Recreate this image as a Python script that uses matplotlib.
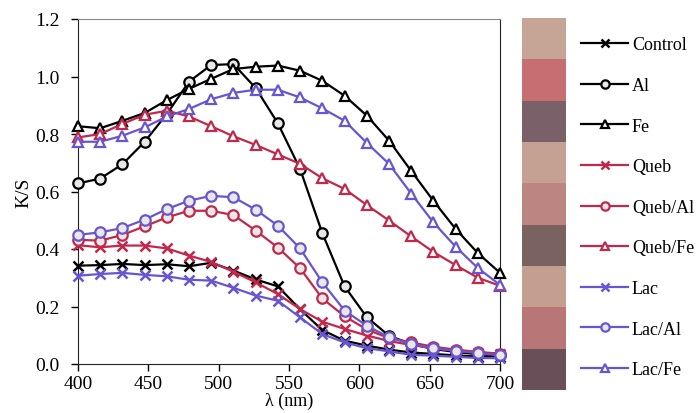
import matplotlib
matplotlib.use("Agg")
import matplotlib.pyplot as plt
import numpy as np

# Data ------------------------------------------------------------
wavelength = [400, 415.8, 431.6, 447.4, 463.2, 478.9, 494.7, 510.5, 526.3, 542.1,
              557.9, 573.7, 589.5, 605.3, 621.1, 636.8, 652.6, 668.4, 684.2, 700]

control = [0.342, 0.344, 0.348, 0.344, 0.347, 0.340, 0.352, 0.325, 0.294, 0.270,
           0.190, 0.118, 0.081, 0.064, 0.050, 0.040, 0.035, 0.030, 0.026, 0.025]
al = [0.628, 0.645, 0.695, 0.773, 0.870, 0.982, 1.040, 1.043, 0.960, 0.837,
      0.678, 0.455, 0.270, 0.163, 0.098, 0.070, 0.052, 0.042, 0.034, 0.030]
fe = [0.827, 0.820, 0.846, 0.873, 0.918, 0.957, 0.992, 1.026, 1.034, 1.038,
      1.020, 0.985, 0.933, 0.864, 0.777, 0.672, 0.568, 0.470, 0.386, 0.317]
queb = [0.413, 0.406, 0.412, 0.412, 0.402, 0.377, 0.355, 0.321, 0.284, 0.243,
        0.191, 0.147, 0.122, 0.099, 0.080, 0.066, 0.055, 0.046, 0.040, 0.035]
queb_al = [0.432, 0.429, 0.449, 0.479, 0.510, 0.533, 0.533, 0.518, 0.464, 0.405,
           0.333, 0.228, 0.166, 0.120, 0.090, 0.075, 0.060, 0.050, 0.042, 0.036]
queb_fe = [0.788, 0.800, 0.835, 0.867, 0.881, 0.861, 0.827, 0.792, 0.762, 0.729,
           0.696, 0.646, 0.609, 0.553, 0.499, 0.444, 0.390, 0.344, 0.300, 0.272]
lac = [0.307, 0.313, 0.317, 0.310, 0.305, 0.293, 0.290, 0.265, 0.238, 0.220,
       0.162, 0.104, 0.075, 0.055, 0.044, 0.032, 0.029, 0.025, 0.021, 0.020]
lac_al = [0.449, 0.458, 0.473, 0.502, 0.539, 0.568, 0.585, 0.580, 0.537, 0.481,
          0.402, 0.284, 0.186, 0.133, 0.093, 0.070, 0.055, 0.046, 0.038, 0.030]
lac_fe = [0.773, 0.773, 0.794, 0.823, 0.861, 0.887, 0.921, 0.943, 0.954, 0.954,
          0.927, 0.889, 0.846, 0.769, 0.696, 0.593, 0.493, 0.408, 0.334, 0.275]

labels = ["Control", "Al", "Fe", "Queb", "Queb/Al", "Queb/Fe", "Lac", "Lac/Al", "Lac/Fe"]
series = [control, al, fe, queb, queb_al, queb_fe, lac, lac_al, lac_fe]

# colour swatches of the dyed samples (top to bottom)
swatches = ["#c6a597", "#c66e72", "#7a6068", "#c4a193", "#bc8582", "#7a6260",
            "#c49e8e", "#b87676", "#695058"]

# Styles ----------------------------------------------------------
black = "#000000"
red = "#c0284c"
blue = "#6a55d0"
colors = [black, black, black, red, red, red, blue, blue, blue]
markers = ["x", "o", "^", "x", "o", "^", "x", "o", "^"]
font_size = 14
legend_font = 13

plt.rcParams["font.family"] = ["Liberation Serif", "DejaVu Serif"]
plt.rcParams["font.size"] = font_size

fig = plt.figure(figsize=(7, 4.14), dpi=100)
ax = fig.add_axes([78 / 700, 1 - 365 / 414, 422 / 700, 345 / 414])

handles = []
for vals, c, m, lab in zip(series, colors, markers, labels):
    if m == "x":
        kw = dict(markersize=7, markeredgewidth=1.8, markeredgecolor=c)
    elif m == "o":
        kw = dict(markersize=7.5, markeredgewidth=1.6, markeredgecolor=c,
                  markerfacecolor="#e8e8e8")
    else:
        kw = dict(markersize=7.5, markeredgewidth=1.6, markeredgecolor=c,
                  markerfacecolor="white")
    h, = ax.plot(wavelength, vals, color=c, lw=1.6, marker=m, label=lab,
                 clip_on=False, zorder=3, **kw)
    handles.append(h)

ax.set_xlim(400, 700)
ax.set_ylim(0, 1.2)
ax.set_xticks(range(400, 701, 50))
ax.set_yticks(np.arange(0, 1.21, 0.2))
ax.yaxis.set_major_formatter(matplotlib.ticker.FormatStrFormatter("%.1f"))
ax.tick_params(direction="out", length=5, width=1, labelsize=font_size)
ax.tick_params(axis="x", pad=3)
ax.tick_params(axis="y", pad=8)
ax.set_xlabel("λ (nm)", fontsize=13, labelpad=0)
ax.set_ylabel("K/S", fontsize=font_size, labelpad=2)
for side in ["left", "bottom", "right"]:
    ax.spines[side].set_color("#222222")
ax.spines["top"].set_color("#888888")

# sample colour strip
sax = fig.add_axes([522 / 700, 1 - 391 / 414, 44 / 700, 372 / 414])
rgb = np.array([matplotlib.colors.to_rgb(s) for s in swatches]).reshape(-1, 1, 3)
sax.imshow(rgb, aspect="auto", interpolation="nearest")
sax.axis("off")

fig.legend(handles=handles, loc="upper left",
           bbox_to_anchor=(574 / 700, 1 - 30 / 414), frameon=False,
           handlelength=2.6, handletextpad=0.2, labelspacing=1.31,
           markerscale=0.8, fontsize=legend_font, borderaxespad=0)

fig.savefig("out.png", dpi=100)
